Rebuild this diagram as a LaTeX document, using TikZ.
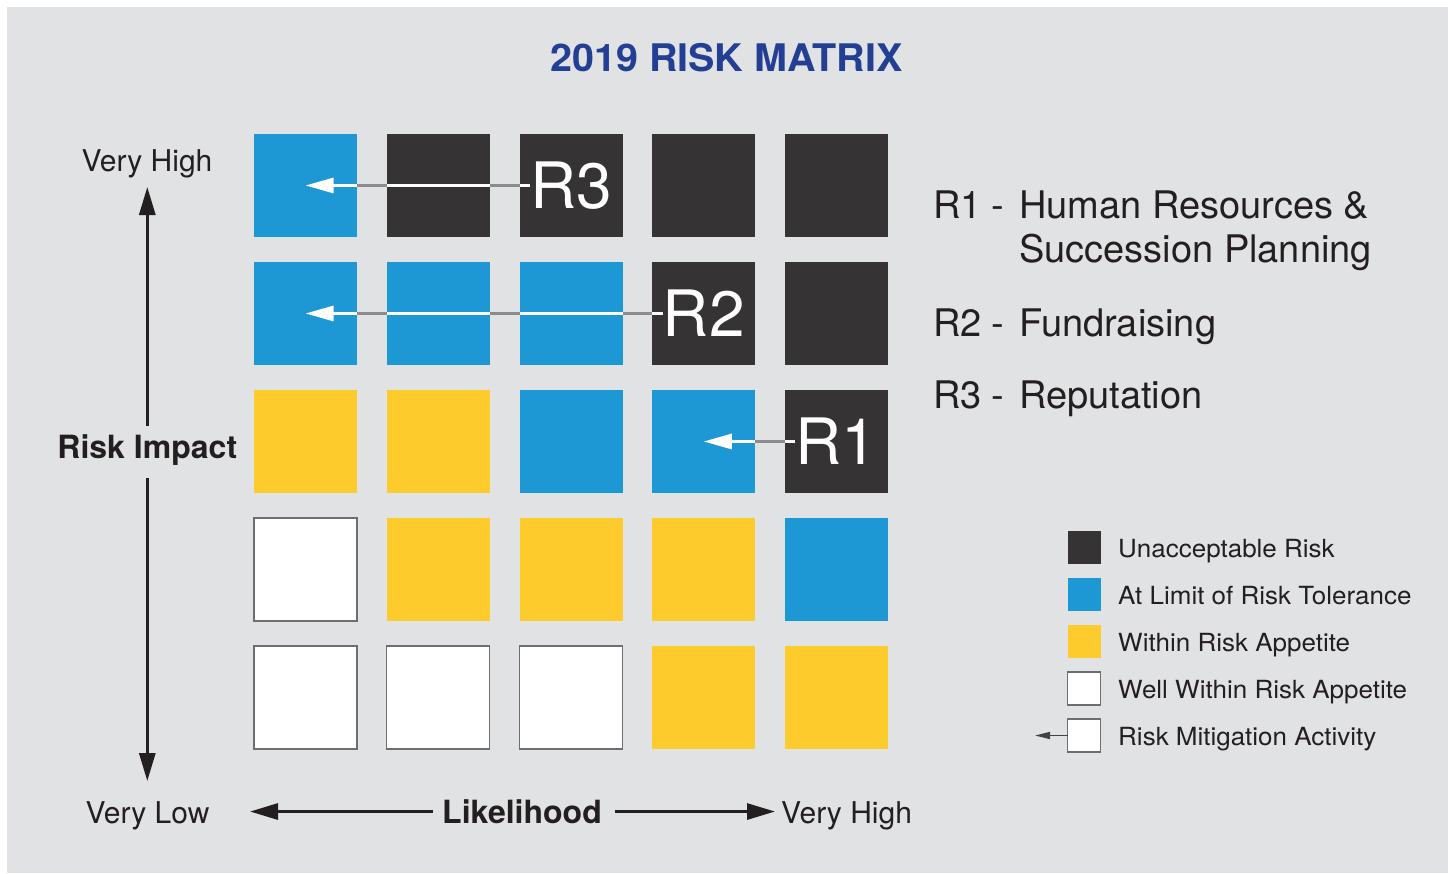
\documentclass[tikz,border=0pt]{standalone}
\usepackage{graphicx}
\usepackage{fontspec}
\setmainfont{TeX Gyre Heros}
\usetikzlibrary{arrows.meta}
\definecolor{panel}{HTML}{E1E2E4}
\definecolor{riskdark}{HTML}{353334}
\definecolor{riskblue}{HTML}{1E98D4}
\definecolor{riskyellow}{HTML}{FDCB2B}
\definecolor{edgegray}{HTML}{6D6E71}
\definecolor{gapgray}{HTML}{8C8C8C}
\definecolor{ink}{HTML}{231F20}
\definecolor{titleblue}{HTML}{233F94}
\tikzset{
  tk/.style={fill=riskdark},
  tb/.style={fill=riskblue},
  ty/.style={fill=riskyellow},
  tw/.style={fill=white,draw=edgegray,line width=1.4pt},
  cell/.style={minimum size=103pt,inner sep=0pt,outer sep=0pt},
  key/.style={minimum size=33pt,inner sep=0pt,outer sep=0pt},
  rlabel/.style={text=white,inner sep=0pt,font=\fontsize{64}{64}\selectfont},
  rtext/.style={text=ink,inner sep=0pt,anchor=base west,font=\fontsize{38}{44}\selectfont},
  legtext/.style={text=ink,inner sep=0pt,anchor=base west,font=\fontsize{25}{28}\selectfont},
  axlabel/.style={text=ink,inner sep=0pt,font=\fontsize{30}{34}\selectfont},
  axbold/.style={text=ink,inner sep=0pt,font=\bfseries\fontsize{32}{36}\selectfont},
  mitig/.style={draw=white,line width=2.8pt,-{Triangle[length=28pt,width=15pt]}},
  gapline/.style={draw=gapgray,line width=2.8pt},
  axis/.style={draw=ink,line width=3pt,-{Triangle[length=28pt,width=16pt]}},
  legarrow/.style={draw=ink!85,line width=1.6pt,-{Triangle[length=15pt,width=7pt]}}
}
\begin{document}
\begin{tikzpicture}[x=1pt,y=-1pt]
\useasboundingbox (0,0) rectangle (1448,873);
\fill[white] (0,0) rectangle (1448,873);
\fill[panel] (7,7) rectangle (1448,873);

\node[anchor=base,inner sep=0pt,text=titleblue,font=\bfseries\fontsize{38}{40}\selectfont]
  (ttl) at (726.5,71.7) {\scalebox{1.04}[1]{2019 RISK MATRIX}};

% the 5x5 grid, top row first
\foreach \row/\cols in {1/{b,k,k,k,k},2/{b,b,b,k,k},3/{y,y,b,b,k},4/{w,y,y,y,b},5/{w,w,w,y,y}}
  \foreach \cl [count=\c] in \cols
    \node[cell,t\cl] (c\row\c) at ({305.5+132.75*(\c-1)},{185.5+128*(\row-1)}) {};

\node[rlabel] (r3) at (c13) {R3};
\node[rlabel] (r2) at (c24) {R2};
\node[rlabel] (r1) at (c35) {R1};

% mitigation arrows, grey where they cross the gaps
\draw[mitig] (r3.west) -- (c11.center);
\draw[gapline] (c11.east) -- (c12.west) (c12.east) -- (c13.west);
\draw[mitig] (r2.west) -- (c21.center);
\draw[gapline] (c21.east) -- (c22.west) (c22.east) -- (c23.west) (c23.east) -- (c24.west);
\draw[mitig] (r1.west) -- (c34.center);
\draw[gapline] (c34.east) -- (c35.west);

% axes
\node[axlabel,anchor=base] (vhigh) at (147,171.7) {Very High};
\node[axbold,anchor=base] (imp) at (147.3,458.3) {Risk Impact};
\node[axlabel,anchor=base] (vlow) at (147.5,823.3) {Very Low};
\node[axbold,anchor=base] (lik) at (522,823.3) {Likelihood};
\node[axlabel,anchor=base west] (hhigh) at (781,823.3) {Very High};
\coordinate (vtop) at (147,187);
\coordinate (vbot) at (147,781);
\coordinate (hleft) at (250,812);
\coordinate (hright) at (775,812);
\draw[axis,shorten <=8pt] (imp.north) -- (imp.north |- vtop);
\draw[axis,shorten <=13pt] (imp.south) -- (imp.south |- vbot);
\draw[axis,shorten <=9pt] (lik.west) -- (lik.west -| hleft);
\draw[axis,shorten <=13pt] (lik.east) -- (lik.east -| hright);

% risk list
\node[rtext] (k1) at (933,218.3) {R1\hspace{10pt}-};
\node[rtext] (d1) at (1019,218.3) {Human Resources \&};
\node[rtext] (d1b) at (1019,262) {Succession Planning};
\node[rtext] (k2) at (933,336.7) {R2\hspace{10pt}-};
\node[rtext] (d2) at (1019,336.7) {Fundraising};
\node[rtext] (k3) at (933,408.3) {R3\hspace{10pt}-};
\node[rtext] (d3) at (1019,408.3) {Reputation};

% legend
\foreach \cl/\txt [count=\i] in {k/Unacceptable Risk,b/At Limit of Risk Tolerance,y/Within Risk Appetite,w/Well Within Risk Appetite,w/Risk Mitigation Activity}{
  \node[key,t\cl] (key\i) at (1084,{547.5+47*(\i-1)}) {};
  \node[legtext] (leg\i) at (1118,{557.5+47*(\i-1)}) {\scalebox{1.04}[1]{\txt}};
}
\coordinate (mtip) at (1035,735.5);
\draw[legarrow] (key5.west) -- (mtip);
\end{tikzpicture}
\end{document}
